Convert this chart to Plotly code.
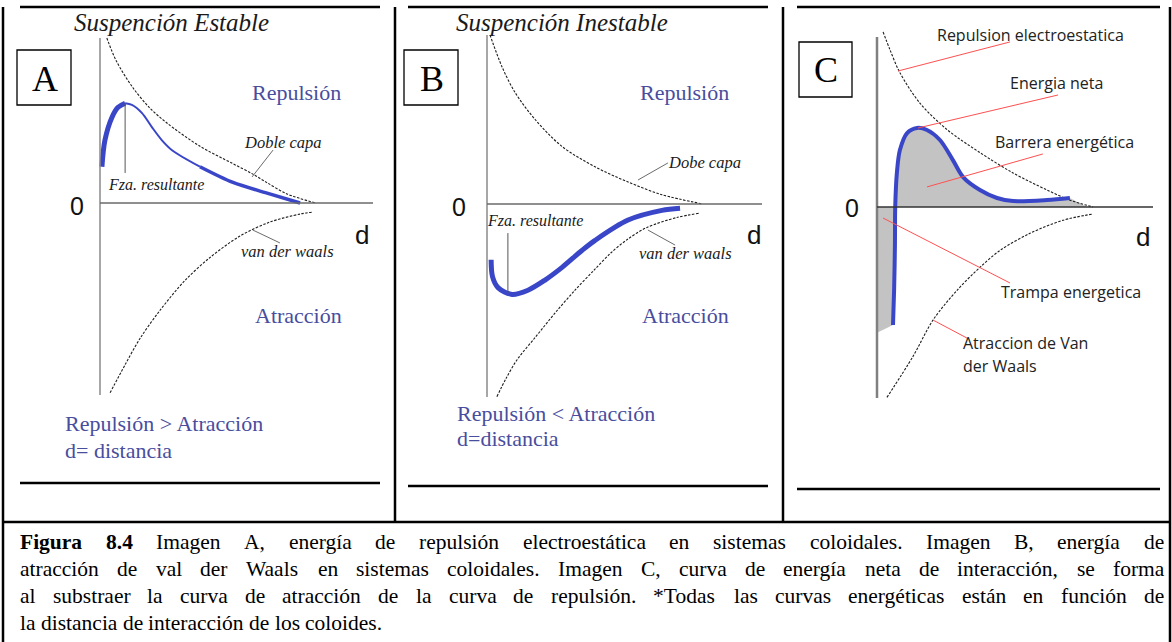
import unicodedata
import plotly.graph_objects as go

W, H = 1172, 642

# ---------------- curve data (distance d, energy) ----------------
# Panel A: stable suspension
A_dl_x = [0.25, 0.6, 1.2, 1.8, 2.45, 3.65, 4.85, 5.6, 6.1, 6.85, 7.9]
A_dl_y = [10.0, 8.6, 7.0, 5.8, 4.85, 3.45, 2.4, 1.75, 1.25, 0.55, 0.0]
A_vdw_x = [0.37, 0.92, 1.47, 2.2, 3.11, 4.03, 5.13, 6.23, 7.33, 7.8]
A_vdw_y = [-11.5, -9.8, -8.2, -6.5, -4.7, -3.3, -2.0, -1.15, -0.67, -0.55]
A_net_x = [0.07, 0.18, 0.44, 0.66, 0.92, 1.17, 1.54, 1.9, 2.27, 2.64, 3.66, 4.87, 6.12, 7.33]
A_net_y = [2.2, 3.8, 5.2, 5.8, 6.05, 5.95, 5.45, 4.6, 3.8, 3.2, 2.2, 1.25, 0.6, 0.0]

# Panel B: unstable suspension
B_dl_x = [0.11, 0.55, 1.02, 1.75, 2.73, 3.93, 5.13, 6.36, 7.85]
B_dl_y = [10.0, 8.1, 6.6, 5.0, 3.4, 2.2, 1.3, 0.55, 0.0]
B_vdw_x = [0.36, 0.7, 1.1, 1.75, 2.5, 3.2, 3.9, 4.5, 5.1, 5.8, 6.9, 7.7]
B_vdw_y = [-11.4, -10.3, -9.2, -7.9, -6.4, -5.1, -3.9, -2.9, -2.1, -1.4, -0.8, -0.55]
B_net_x = [0.15, 0.2, 0.4, 0.91, 1.49, 2.11, 2.73, 3.45, 3.93, 5.13, 6.36, 7.02]
B_net_y = [-3.3, -4.3, -4.95, -5.35, -5.1, -4.5, -3.75, -2.75, -2.15, -0.95, -0.38, -0.25]

# Panel C: net interaction energy
C_rep_x = [0.22, 0.47, 0.83, 1.56, 2.54, 3.73, 4.93, 6.16, 6.99, 7.83]
C_rep_y = [10.3, 9.25, 7.9, 6.1, 4.55, 3.2, 2.0, 1.0, 0.4, 0.0]
C_vdw_x = [0.36, 1.3, 2.03, 2.9, 3.73, 4.46, 5.54, 6.74, 7.79]
C_vdw_y = [-11.2, -8.8, -6.65, -4.9, -3.55, -2.55, -1.55, -0.78, -0.42]
C_net_x = [0.58, 0.62, 0.65, 0.66, 0.72, 0.83, 1.09, 1.45, 1.81, 2.28, 2.75, 3.12,
           3.73, 4.35, 4.93, 6.16, 6.99]
C_net_y = [-6.94, -4.88, -2.2, 0.0, 2.0, 3.35, 4.35, 4.65, 4.53, 3.94, 2.76, 1.76,
           1.0, 0.53, 0.35, 0.41, 0.53]

CAPTION = [
    "Figura 8.4 Imagen A, energía de repulsión electroestática en sistemas coloidales. Imagen B, energía de",
    "atracción de val der Waals en sistemas coloidales. Imagen C, curva de energía neta de interacción, se forma",
    "al substraer la curva de atracción de la curva de repulsión. *Todas las curvas energéticas están en función de",
    "la distancia de interacción de los coloides.",
]
BOLD_WORDS = 2  # "Figura 8.4"

# ---------------- styling ----------------
SERIF = "Liberation Serif"
SANS = "Liberation Sans"
UI = "Open Sans"
BLUE_TXT = "#484d9e"
BLUE_LINE = "#3a46c8"
DASH = dict(color="#1e1e1e", width=1.1, dash="2.5px,1.5px")


def fx(px):
    return px / W


def fy(py):
    return 1 - py / H


# panel geometry: origin pixel, px per unit, plot domain (x0, x1, ytop, ybottom)
panels = {
    "A": dict(o=(100, 203), s=(27.3, 16.5), dom=(80, 390, 25, 410), ax="", top=10, bot=-11.64),
    "B": dict(o=(487, 204), s=(27.5, 16.9), dom=(470, 775, 25, 410), ax="2", top=10, bot=-11.42),
    "C": dict(o=(877, 207), s=(27.6, 17.0), dom=(860, 1165, 20, 410), ax="3", top=10, bot=-11.24),
}

fig = go.Figure()
layout_axes = {}
shapes = []
annotations = []

for key, p in panels.items():
    ox, oy = p["o"]
    sx, sy = p["s"]
    x0, x1, yt, yb = p["dom"]
    layout_axes["xaxis" + p["ax"]] = dict(
        domain=[fx(x0), fx(x1)], range=[(x0 - ox) / sx, (x1 - ox) / sx],
        visible=False, anchor="y" + p["ax"], fixedrange=True)
    layout_axes["yaxis" + p["ax"]] = dict(
        domain=[fy(yb), fy(yt)], range=[(oy - yb) / sy, (oy - yt) / sy],
        visible=False, anchor="x" + p["ax"], fixedrange=True)


def line_trace(x, y, ax, **line):
    fig.add_trace(go.Scatter(
        x=x, y=y, mode="lines", xaxis="x" + ax, yaxis="y" + ax,
        line=dict(shape="spline", smoothing=0.9, **line),
        hoverinfo="skip", showlegend=False, cliponaxis=False))


def seg(ax, x0, y0, x1, y1, color, width):
    shapes.append(dict(type="line", xref="x" + ax, yref="y" + ax,
                       x0=x0, y0=y0, x1=x1, y1=y1,
                       line=dict(color=color, width=width)))


def text(px, py, s, size, family=SERIF, color="#1a1a1a", xanchor="center"):
    annotations.append(dict(x=fx(px), y=fy(py), xref="paper", yref="paper",
                            text=s, showarrow=False, xanchor=xanchor, yanchor="middle",
                            font=dict(family=family, size=size, color=color)))


def box(x0, y0, x1, y1, width=1.3):
    shapes.append(dict(type="rect", xref="paper", yref="paper",
                       x0=fx(x0), x1=fx(x1), y0=fy(y1), y1=fy(y0),
                       line=dict(color="black", width=width)))


def hline(x0, x1, y, width=2.5):
    shapes.append(dict(type="line", xref="paper", yref="paper",
                       x0=fx(x0), x1=fx(x1), y0=fy(y), y1=fy(y),
                       line=dict(color="black", width=width)))


def vline(x, y0, y1, width=2.5):
    shapes.append(dict(type="line", xref="paper", yref="paper",
                       x0=fx(x), x1=fx(x), y0=fy(y0), y1=fy(y1),
                       line=dict(color="black", width=width)))


# ---------------- panel A ----------------
pA = panels["A"]
seg("", 0, pA["bot"], 0, pA["top"], "#8a8a8a", 1.5)
seg("", 0, 0, 10, 0, "#6a6a6a", 1.5)
line_trace(A_dl_x, A_dl_y, "", **DASH)
line_trace(A_vdw_x, A_vdw_y, "", **DASH)
peakA = A_net_y.index(max(A_net_y))
line_trace(A_net_x[:peakA + 1], A_net_y[:peakA + 1], "", color=BLUE_LINE, width=5)
line_trace(A_net_x[peakA:11], A_net_y[peakA:11], "", color=BLUE_LINE, width=2)
line_trace(A_net_x[10:], A_net_y[10:], "", color=BLUE_LINE, width=3.5)
seg("", A_net_x[peakA], A_net_y[peakA], A_net_x[peakA], 1.82, "#555555", 1)
seg("", 5.57, 1.58, 6.34, 3.21, "#444444", 0.8)
seg("", 5.60, -1.64, 6.59, -2.42, "#444444", 0.8)

text(171, 22, "<i>Suspención Estable</i>", 25)
box(17, 50, 71, 105)
text(45, 79, "A", 36, color="black")
text(296, 92, "Repulsión", 22, color=BLUE_TXT)
text(283, 142, "<i>Doble capa</i>", 16.5)
text(156, 185, "<i>Fza. resultante</i>", 16)
text(77, 206, "0", 25, family=SANS, color="#111")
text(362, 235, "d", 26, family=SANS, color="#111")
text(287, 251, "<i>van der waals</i>", 16.5)
text(298, 315, "Atracción", 22, color=BLUE_TXT)
text(63, 423, "Repulsión &gt; Atracción", 22, color=BLUE_TXT, xanchor="left")
text(63, 450, "d= distancia", 22, color=BLUE_TXT, xanchor="left")

# ---------------- panel B ----------------
pB = panels["B"]
seg("2", 0, pB["bot"], 0, pB["top"], "#8a8a8a", 1.5)
seg("2", 0, 0, 10, 0, "#6a6a6a", 1.5)
line_trace(B_dl_x, B_dl_y, "2", **DASH)
line_trace(B_vdw_x, B_vdw_y, "2", **DASH)
line_trace(B_net_x, B_net_y, "2", color=BLUE_LINE, width=5)
seg("2", 0.76, -1.72, 0.76, -5.27, "#555555", 1)
seg("2", 5.49, 1.42, 6.58, 2.43, "#444444", 0.8)
seg("2", 5.85, -1.54, 6.84, -2.43, "#444444", 0.8)

text(562, 22, "<i>Suspención Inestable</i>", 25)
box(404, 50, 458, 105)
text(432, 79, "B", 36, color="black")
text(684, 92, "Repulsión", 22, color=BLUE_TXT)
text(704, 163, "<i>Dobe capa</i>", 16.5)
text(535, 220, "<i>Fza. resultante</i>", 16)
text(459, 207, "0", 25, family=SANS, color="#111")
text(754, 235, "d", 26, family=SANS, color="#111")
text(685, 253, "<i>van der waals</i>", 16.5)
text(685, 315, "Atracción", 22, color=BLUE_TXT)
text(455, 413, "Repulsión &lt; Atracción", 22, color=BLUE_TXT, xanchor="left")
text(455, 438, "d=distancia", 22, color=BLUE_TXT, xanchor="left")

# ---------------- panel C ----------------
pC = panels["C"]
zi = C_net_y.index(0.0)
# energy barrier (above zero) and energy trap (below zero) shading
fig.add_trace(go.Scatter(
    x=C_net_x[zi:] + [7.6, C_net_x[zi]], y=C_net_y[zi:] + [0, 0],
    mode="lines", fill="toself", fillcolor="#c3c3c3", line=dict(width=0),
    xaxis="x3", yaxis="y3", hoverinfo="skip", showlegend=False))
fig.add_trace(go.Scatter(
    x=[0] + C_net_x[:zi + 1][::-1] + [0], y=[0] + C_net_y[:zi + 1][::-1] + [-7.4],
    mode="lines", fill="toself", fillcolor="#c3c3c3", line=dict(width=0),
    xaxis="x3", yaxis="y3", hoverinfo="skip", showlegend=False))
seg("3", 0, pC["bot"], 0, pC["top"], "#808080", 2.5)
seg("3", 0, 0, 10, 0, "#333333", 1.5)
line_trace(C_rep_x, C_rep_y, "3", **DASH)
line_trace(C_vdw_x, C_vdw_y, "3", **DASH)
line_trace(C_net_x, C_net_y, "3", color=BLUE_LINE, width=4)
RED = "#ff5050"
seg("3", 0.76, 8.0, 4.82, 9.71, RED, 1)
seg("3", 1.49, 4.65, 6.56, 6.59, RED, 1)
seg("3", 1.81, 1.18, 6.01, 3.12, RED, 1)
seg("3", 0.22, -0.65, 4.82, -4.47, RED, 1)
seg("3", 2.03, -6.65, 3.26, -7.71, RED, 1)

box(799, 42, 852, 97)
text(826, 70, "C", 36, color="black")
text(852, 208, "0", 25, family=SANS, color="#111")
text(1143, 237, "d", 26, family=SANS, color="#111")
text(1030, 35, "Repulsion electroestatica", 16, family=UI, color="#222")
text(1056, 83, "Energia neta", 16, family=UI, color="#222")
text(1064, 142, "Barrera energética", 16, family=UI, color="#222")
text(1071, 292, "Trampa energetica", 16, family=UI, color="#222")
text(961, 343, "Atraccion de Van", 16, family=UI, color="#222", xanchor="left")
text(961, 366, "der Waals", 16, family=UI, color="#222", xanchor="left")

# ---------------- table frame ----------------
vline(3, 7, 642)
vline(395, 7, 522)
vline(783, 7, 522)
vline(1170, 7, 642)
hline(3, 1170, 522)
for (a, b, yb) in [(20, 380, 483), (408, 768, 486), (797, 1160, 489)]:
    hline(a, b, 7)
    hline(a, b, yb)

# ---------------- justified caption ----------------
REG = {' ': 250, ',': 250, '.': 250, '*': 500, 'a': 444, 'b': 500, 'c': 444, 'd': 500,
       'e': 444, 'f': 333, 'g': 500, 'h': 500, 'i': 278, 'j': 278, 'k': 500, 'l': 278,
       'm': 778, 'n': 500, 'o': 500, 'p': 500, 'q': 500, 'r': 333, 's': 389, 't': 278,
       'u': 500, 'v': 500, 'w': 722, 'x': 500, 'y': 500, 'z': 444, 'A': 722, 'B': 667,
       'C': 667, 'F': 556, 'I': 333, 'T': 611, 'W': 944}
BOLD = {'F': 611, 'i': 278, 'g': 500, 'u': 556, 'r': 444, 'a': 500, '.': 250}
CAP_SIZE = 21.5
CAP_L, CAP_R = 20, 1164
CAP_Y = [542, 569, 596, 623]


def word_width(w, bold=False):
    base = unicodedata.normalize("NFD", w)
    tot = 0
    for ch in base:
        if unicodedata.combining(ch):
            continue
        if ch.isdigit():
            tot += 500
        elif bold:
            tot += BOLD.get(ch, REG.get(ch, 500))
        else:
            tot += REG.get(ch, 500)
    return tot * CAP_SIZE / 1000


for li, line in enumerate(CAPTION):
    words = line.split(" ")
    bold_flags = [li == 0 and k < BOLD_WORDS for k in range(len(words))]
    widths = [word_width(w, b) for w, b in zip(words, bold_flags)]
    if li < len(CAPTION) - 1:
        gap = (CAP_R - CAP_L - sum(widths)) / (len(words) - 1)
    else:
        gap = 250 * CAP_SIZE / 1000
    x = CAP_L
    for w, b, wd in zip(words, bold_flags, widths):
        t = "<b>%s</b>" % w if b else w
        text(x - 2, CAP_Y[li], t, CAP_SIZE, color="black", xanchor="left")
        x += wd + gap

fig.update_layout(
    width=W, height=H, margin=dict(l=0, r=0, t=0, b=0),
    paper_bgcolor="white", plot_bgcolor="rgba(0,0,0,0)",
    shapes=shapes, annotations=annotations, **layout_axes)

fig.write_html("out.html")
